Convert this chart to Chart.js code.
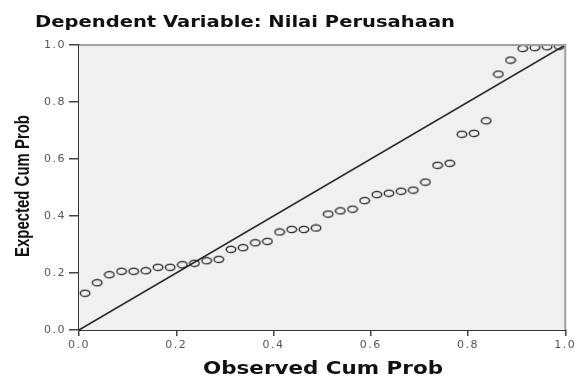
<!DOCTYPE html>
<html>
<head>
<meta charset="utf-8">
<script src="https://cdn.jsdelivr.net/npm/chart.js@4"></script>
<style>
  html, body { margin: 0; padding: 0; background: #fff; }
  #chart { display: block; }
</style>
</head>
<body>
<canvas id="chart" width="577" height="376"></canvas>
<script>
// observed vs expected cumulative probability
const observed = [0.0125, 0.0375, 0.0625, 0.0875, 0.1125, 0.1375, 0.1625, 0.1875, 0.2125, 0.2375,
  0.2625, 0.2875, 0.3125, 0.3375, 0.3625, 0.3875, 0.4125, 0.4375, 0.4625, 0.4875,
  0.5125, 0.5375, 0.5625, 0.5875, 0.6125, 0.6375, 0.6625, 0.6875, 0.7125, 0.7375,
  0.7625, 0.7875, 0.8125, 0.8375, 0.8625, 0.8875, 0.9125, 0.9375, 0.9625, 0.9875];
const expected = [0.129, 0.166, 0.194, 0.206, 0.206, 0.208, 0.220, 0.220, 0.229, 0.234,
  0.243, 0.248, 0.283, 0.289, 0.306, 0.311, 0.344, 0.353, 0.353, 0.358,
  0.407, 0.418, 0.424, 0.454, 0.475, 0.480, 0.487, 0.491, 0.519, 0.578,
  0.585, 0.687, 0.690, 0.734, 0.898, 0.947, 0.988, 0.991, 0.994, 0.996];
const diagX = [0, 1];
const diagY = [0, 1];
const tickValues = [0, 0.2, 0.4, 0.6, 0.8, 1.0];

const titleText = 'Dependent Variable: Nilai Perusahaan';
const xTitle = 'Observed Cum Prob';
const yTitle = 'Expected Cum Prob';

// open ellipse marker
function makeMarker() {
  const c = document.createElement('canvas');
  c.width = 12; c.height = 9;
  const g = c.getContext('2d');
  g.strokeStyle = '#222';
  g.lineWidth = 1.3;
  g.beginPath();
  g.ellipse(6, 4.5, 4.8, 3.2, 0, 0, Math.PI * 2);
  g.stroke();
  return c;
}

// draw text stretched/squeezed to a given width (sy = glyph height scale)
function fitText(ctx, text, x, y, width, font, rot, sy) {
  ctx.save();
  ctx.font = font;
  ctx.fillStyle = '#111';
  ctx.textAlign = 'center';
  ctx.textBaseline = 'alphabetic';
  const w = ctx.measureText(text).width;
  ctx.translate(x, y);
  if (rot) ctx.rotate(rot);
  ctx.scale(width / w, sy || 1);
  ctx.fillText(text, 0, 0);
  ctx.restore();
}

const framePlugin = {
  id: 'frame',
  beforeDraw(chart) {
    chart.ctx.letterSpacing = '1.5px';
  },
  beforeDatasetsDraw(chart) {
    const { ctx, chartArea: a } = chart;
    ctx.save();
    ctx.fillStyle = '#f0f0f0';
    ctx.fillRect(a.left, a.top, a.right - a.left, a.bottom - a.top);
    ctx.restore();
  },
  afterDraw(chart) {
    const { ctx, chartArea: a } = chart;
    ctx.letterSpacing = '0px';
    ctx.save();
    ctx.strokeStyle = '#a0a0a0';
    ctx.lineWidth = 2;
    ctx.beginPath();
    ctx.moveTo(a.left, a.top);
    ctx.lineTo(a.right, a.top);
    ctx.lineTo(a.right, a.bottom);
    ctx.stroke();
    ctx.restore();
    fitText(ctx, titleText, 245, 27, 420, 'bold 16px "DejaVu Sans"');
    fitText(ctx, xTitle, 323, 374, 240, 'bold 18px "DejaVu Sans"');
    fitText(ctx, yTitle, 29, 186, 142, 'bold 15px "Liberation Sans"', -Math.PI / 2, 1.35);
  }
};

const pts = observed.map((v, i) => ({ x: v, y: expected[i] }));
const diag = diagX.map((v, i) => ({ x: v, y: diagY[i] }));

new Chart(document.getElementById('chart'), {
  type: 'scatter',
  data: {
    datasets: [
      {
        type: 'line',
        data: diag,
        borderColor: '#2a2a2a',
        borderWidth: 1.6,
        pointRadius: 0,
        fill: false,
        order: 2
      },
      {
        data: pts,
        pointStyle: makeMarker(),
        order: 1
      }
    ]
  },
  options: {
    responsive: false,
    animation: false,
    events: [],
    layout: { padding: { top: 45, right: 10, left: 0, bottom: 0 } },
    plugins: { legend: { display: false }, tooltip: { enabled: false } },
    scales: {
      x: {
        type: 'linear',
        min: 0, max: 1,
        afterFit(s) { s.height = 46; },
        afterBuildTicks(s) { s.ticks = tickValues.map(v => ({ value: v })); },
        grid: { drawOnChartArea: false, drawTicks: true, tickLength: 6, color: '#444', lineWidth: 1.5 },
        border: { color: '#333', width: 2 },
        ticks: {
          padding: 3,
          color: '#555',
          font: { family: 'DejaVu Sans', size: 11 },
          maxRotation: 0,
          callback: v => v.toFixed(1)
        }
      },
      y: {
        type: 'linear',
        min: 0, max: 1,
        afterFit(s) { s.width = 79; },
        afterBuildTicks(s) { s.ticks = tickValues.map(v => ({ value: v })); },
        grid: { drawOnChartArea: false, drawTicks: true, tickLength: 10, color: '#444', lineWidth: 1.5 },
        border: { color: '#333', width: 2 },
        ticks: {
          padding: 3,
          color: '#555',
          font: { family: 'DejaVu Sans', size: 11 },
          callback: v => v.toFixed(1)
        }
      }
    }
  },
  plugins: [framePlugin]
});
</script>
</body>
</html>
